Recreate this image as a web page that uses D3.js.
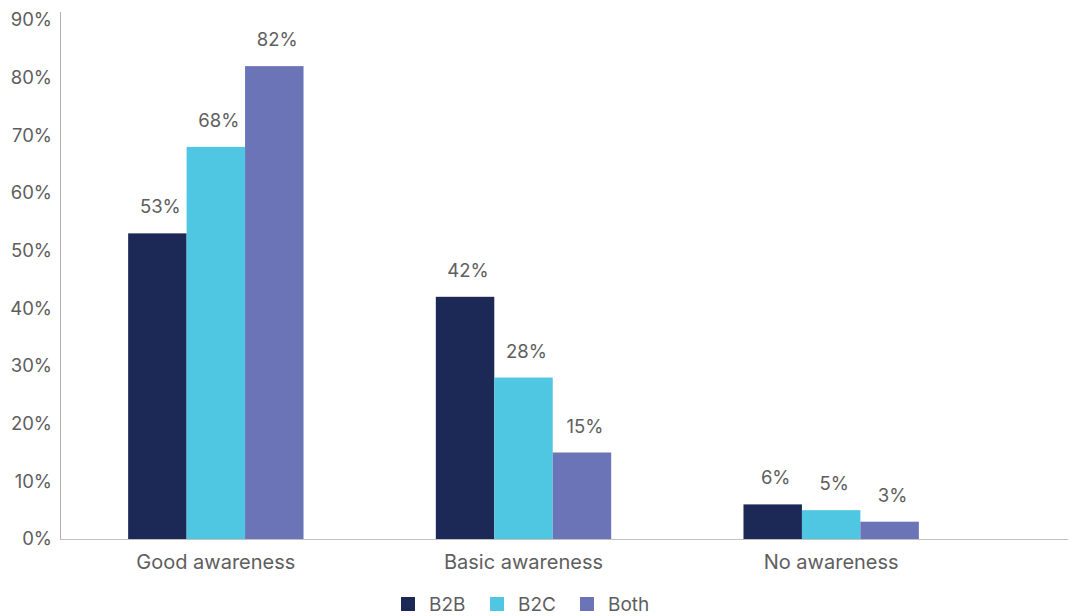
<!DOCTYPE html>
<html><head><meta charset="utf-8">
<script src="https://cdn.jsdelivr.net/npm/d3@7"></script>
<style>html,body{margin:0;padding:0;background:#fff;}svg{display:block;}</style>
</head><body>
<script>
const categories = ["Good awareness", "Basic awareness", "No awareness"];
const seriesNames = ["B2B", "B2C", "Both"];
const b2b = [53, 42, 6];
const b2c = [68, 28, 5];
const both = [82, 15, 3];
const yTicks = [0, 10, 20, 30, 40, 50, 60, 70, 80, 90];
const colors = ["#1c2957", "#4fc7e3", "#6b74b7"];
const seriesValues = [b2b, b2c, both];

const W = 1070, H = 616;
const svg = d3.select("body").append("svg").attr("width", W).attr("height", H);
const font = "Inter, 'Noto Sans', sans-serif";
const textColor = "#5e5e5e";

const x0 = d3.scaleBand().domain(categories).range([62, 985]).paddingInner(0.43).paddingOuter(0.215);
const x1 = d3.scaleBand().domain(seriesNames).range([0, x0.bandwidth()]).padding(0);
const y = d3.scaleLinear().domain([0, 90]).range([539, 20]);

// y axis
const yAxis = svg.append("g").attr("transform", "translate(60,0)")
  .call(d3.axisLeft(y).tickValues(yTicks).tickFormat(d => d + "%").tickSize(0).tickPadding(8));
yAxis.select(".domain").remove();
yAxis.selectAll("text").attr("font-family", font).attr("font-size", 18.5).attr("fill", textColor);
svg.append("line").attr("x1", 60.5).attr("x2", 60.5).attr("y1", 12).attr("y2", 539).attr("stroke", "#b0b0b0").attr("stroke-width", 1);

// bars
const groups = svg.append("g").selectAll("g").data(categories).join("g")
  .attr("transform", d => `translate(${x0(d)},0)`);
groups.each(function(cat, ci) {
  const g = d3.select(this);
  seriesNames.forEach((s, si) => {
    const v = seriesValues[si][ci];
    g.append("rect").attr("x", x1(s)).attr("width", x1.bandwidth())
      .attr("y", y(v)).attr("height", y(0) - y(v)).attr("fill", colors[si]);
    g.append("text").attr("x", x1(s) + x1.bandwidth() / 2 + 3).attr("y", y(v) - 20)
      .attr("text-anchor", "middle").attr("font-family", font).attr("font-size", 18.5)
      .attr("fill", textColor).text(v + "%");
  });
});

// x axis
svg.append("line").attr("x1", 60).attr("x2", 1068).attr("y1", 539.5).attr("y2", 539.5).attr("stroke", "#c0c0c0").attr("stroke-width", 1.2);
const xAxis = svg.append("g").attr("transform", "translate(0,539)")
  .call(d3.axisBottom(x0).tickSize(0).tickPadding(16));
xAxis.select(".domain").remove();
xAxis.selectAll("text").attr("font-family", font).attr("font-size", 20).attr("fill", textColor);

// legend
const legendX = [401, 490, 580];
const legend = svg.append("g");
seriesNames.forEach((s, i) => {
  legend.append("rect").attr("x", legendX[i]).attr("y", 597).attr("width", 14).attr("height", 14).attr("fill", colors[i]);
  legend.append("text").attr("x", legendX[i] + 28).attr("y", 611).attr("font-family", font).attr("font-size", 19)
    .attr("fill", textColor).text(s);
});
</script>
</body></html>
